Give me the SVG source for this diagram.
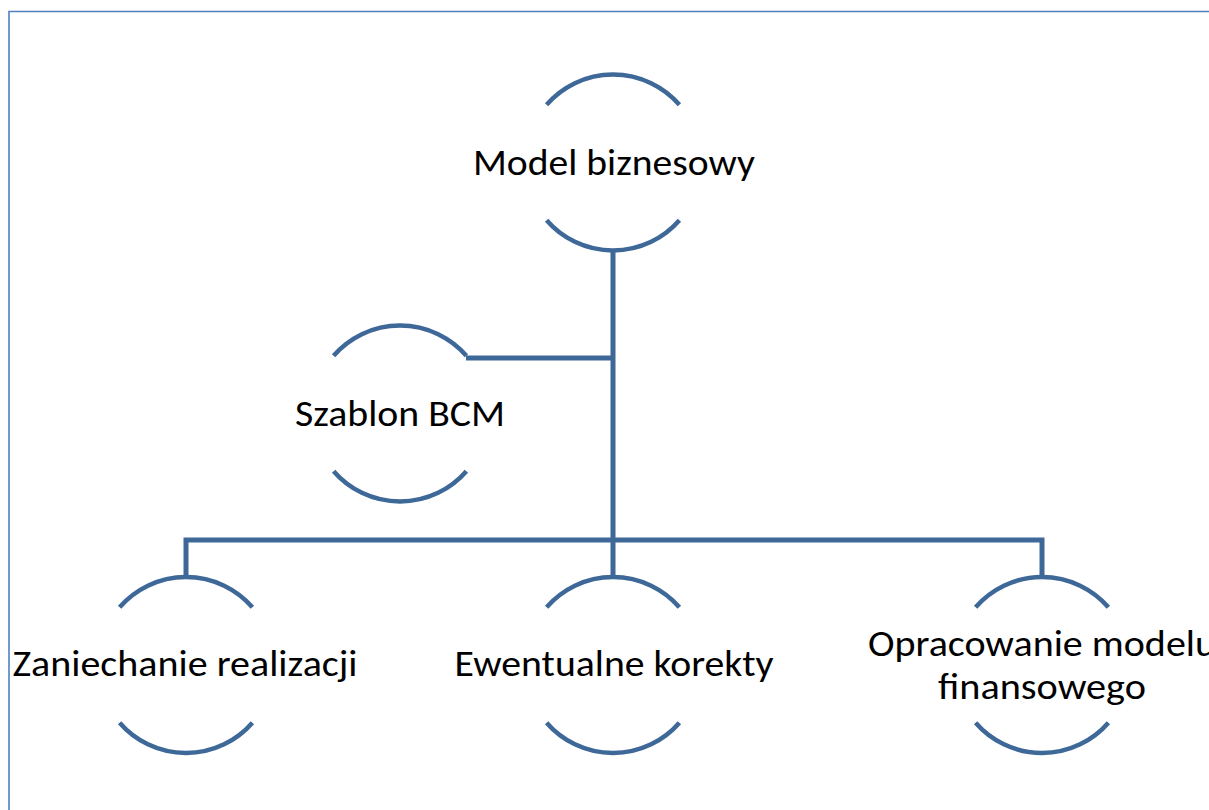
<svg xmlns="http://www.w3.org/2000/svg" width="1209" height="810" viewBox="0 0 1209 810">
  <style>
    .frame { fill: none; stroke: #4F81BD; stroke-width: 1.6; }
    .arc { fill: none; stroke: #3E6898; stroke-width: 4.5; }
    .link { fill: none; stroke: #3E6898; stroke-width: 5; stroke-linejoin: miter; }
    .label { font-family: Carlito, Lato, "Liberation Sans", sans-serif; font-size: 36px; fill: #000; text-anchor: middle; }
  </style>
  <rect width="1209" height="810" fill="#fff"/>
  <!-- page frame, continues past the right and bottom edges -->
  <path class="frame" d="M9,810 V11.5 H1209"/>

  <!-- connectors -->
  <g id="connectors">
    <path class="link" d="M613,250 V577"/>
    <path class="link" d="M466,358 H613"/>
    <path class="link" d="M186,577 V540 H1042 V577"/>
  </g>

  <!-- nodes: each is a pair of circle arcs with a centred caption -->
  <g id="node-model">
    <path class="arc" d="M546.6,104.8 A88 88 0 0 1 679.4,104.8"/>
    <path class="arc" d="M546.6,220.2 A88 88 0 0 0 679.4,220.2"/>
    <text class="label" x="614" y="175" textLength="282" lengthAdjust="spacingAndGlyphs">Model biznesowy</text>
  </g>

  <g id="node-szablon">
    <path class="arc" d="M333.6,355.8 A88 88 0 0 1 466.4,355.8"/>
    <path class="arc" d="M333.6,471.2 A88 88 0 0 0 466.4,471.2"/>
    <text class="label" x="400" y="426" textLength="210" lengthAdjust="spacingAndGlyphs">Szablon BCM</text>
  </g>

  <g id="node-zaniechanie">
    <path class="arc" d="M119.6,607.3 A88 88 0 0 1 252.4,607.3"/>
    <path class="arc" d="M119.6,722.7 A88 88 0 0 0 252.4,722.7"/>
    <text class="label" x="185" y="676" textLength="345" lengthAdjust="spacingAndGlyphs">Zaniechanie realizacji</text>
  </g>

  <g id="node-korekty">
    <path class="arc" d="M546.6,607.3 A88 88 0 0 1 679.4,607.3"/>
    <path class="arc" d="M546.6,722.7 A88 88 0 0 0 679.4,722.7"/>
    <text class="label" x="614" y="676" textLength="319" lengthAdjust="spacingAndGlyphs">Ewentualne korekty</text>
  </g>

  <g id="node-finanse">
    <path class="arc" d="M975.6,607.3 A88 88 0 0 1 1108.4,607.3"/>
    <path class="arc" d="M975.6,722.7 A88 88 0 0 0 1108.4,722.7"/>
    <text class="label" x="1042" y="656" textLength="348" lengthAdjust="spacingAndGlyphs">Opracowanie modelu</text>
    <text class="label" x="1042" y="699" textLength="208" lengthAdjust="spacingAndGlyphs">finansowego</text>
  </g>
</svg>
